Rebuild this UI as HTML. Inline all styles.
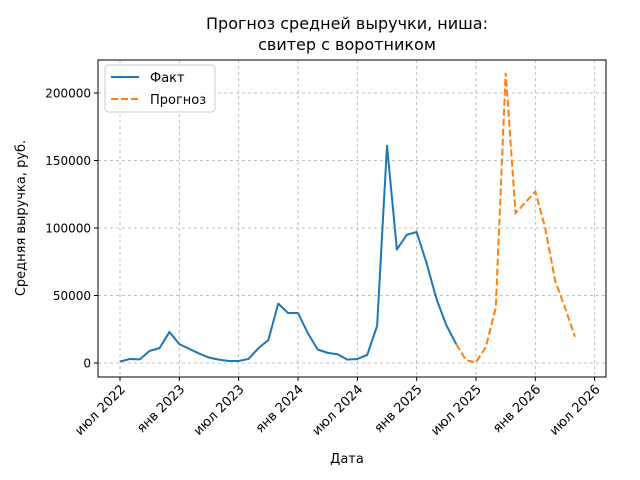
<!DOCTYPE html>
<html><head><meta charset="utf-8"><style>
body{margin:0;background:#fff;}
svg{display:block;font-family:"DejaVu Sans","Liberation Sans",sans-serif;}
</style></head><body>
<svg id="chart" width="640" height="480">
<text x="347" y="29" text-anchor="middle" font-size="16"><tspan x="347">Прогноз средней выручки, ниша:</tspan><tspan x="347" dy="21">свитер с воротником</tspan></text>
<g id="grid"></g>
<g id="axes"></g>
<g id="series"></g>
<rect x="98" y="60" width="508" height="317" fill="none" stroke="#000" stroke-width="1"/>
<text x="347" y="463" text-anchor="middle" font-size="13">Дата</text>
<text transform="translate(25,218) rotate(-90)" text-anchor="middle" font-size="13">Средняя выручка, руб.</text>
<g>
<rect x="105" y="65" width="110" height="47" rx="3" fill="#fff" fill-opacity="0.8" stroke="#ccc"/>
<line x1="111" y1="77" x2="139" y2="77" stroke="#1f77b4" stroke-width="2"/>
<text x="150" y="82" font-size="13">Факт</text>
<line x1="111" y1="99" x2="139" y2="99" stroke="#ff7f0e" stroke-width="2" stroke-dasharray="7,3"/>
<text x="150" y="104" font-size="13">Прогноз</text>
</g>
</svg>
<script>
const factValues=[1000,3000,2700,9000,11000,23000,14000,10500,7000,4000,2500,1500,1500,3000,11000,17000,44000,37000,37000,22000,10000,7500,6500,2500,3000,6000,27500,161000,84000,95000,97000,74000,47500,28000,14000];
const forecastStart=34;
const forecastValues=[14000,2000,500,12000,41000,215000,111000,119000,127000,100000,61000,41000,19500];
const xTickLabels=["июл 2022","янв 2023","июл 2023","янв 2024","июл 2024","янв 2025","июл 2025","янв 2026","июл 2026"];
const xTickMonths=[0,6,12,18,24,30,36,42,48];
const yTicks=[0,50000,100000,150000,200000];
const NS="http://www.w3.org/2000/svg";
function xs(m){return 120+m*(476-120)/36;}
function ys(v){return 363-v*(363-93)/200000;}
const grid=document.getElementById('grid'),axes=document.getElementById('axes'),ser=document.getElementById('series');
function mk(tag,attrs,parent){const e=document.createElementNS(NS,tag);for(const k in attrs)e.setAttribute(k,attrs[k]);parent.appendChild(e);return e;}
xTickMonths.forEach((m,i)=>{
 const x=xs(m);
 const g=mk('line',{x1:x,y1:60,x2:x,y2:377,stroke:'#b0b0b0','stroke-width':0.8,'stroke-dasharray':'3,3'},grid);
 
 
 const t=mk('line',{x1:x,y1:377,x2:x,y2:381,stroke:'#000'},axes);
 
 
 const l=mk('text',{transform:`translate(${x+6},390) rotate(-45)`,'text-anchor':'end','font-size':13},axes);
 l.textContent=xTickLabels[i];
 
 
});
yTicks.forEach(v=>{
 const y=ys(v);
 const g=mk('line',{x1:98,y1:y,x2:606,y2:y,stroke:'#b0b0b0','stroke-width':0.8,'stroke-dasharray':'3,3'},grid);
 
 
 const t=mk('line',{x1:94,y1:y,x2:98,y2:y,stroke:'#000'},axes);
 
 
 const l=mk('text',{x:91,y:y+4.5,'text-anchor':'end','font-size':12},axes);
 l.textContent=String(v);
 
 
});
const fp=factValues.map((v,i)=>xs(i)+','+ys(v)).join(' ');
const f=mk('polyline',{points:fp,fill:'none',stroke:'#1f77b4','stroke-width':2,'stroke-linejoin':'round'},ser);


const pp=forecastValues.map((v,i)=>xs(forecastStart+i)+','+ys(v)).join(' ');
const p=mk('polyline',{points:pp,fill:'none',stroke:'#ff7f0e','stroke-width':2,'stroke-dasharray':'7,3'},ser);


</script>
</body></html>
